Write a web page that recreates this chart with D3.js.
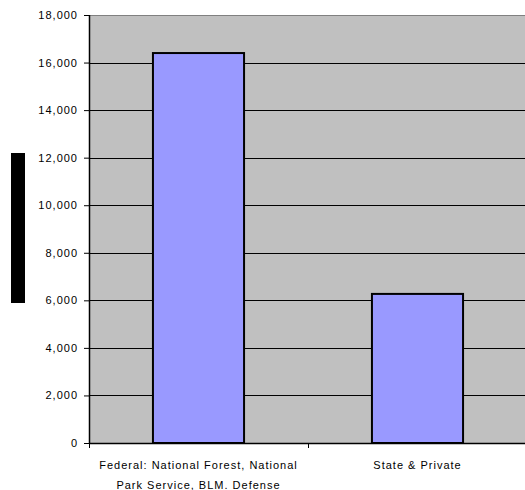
<!DOCTYPE html>
<html><head><meta charset="utf-8">
<script src="https://cdn.jsdelivr.net/npm/d3@7"></script>
<style>body{margin:0;background:#fff;}svg{display:block;font-family:"Liberation Sans",Arial,sans-serif;}</style>
</head><body>
<script>
const categories = [["Federal: National Forest, National", "Park Service, BLM. Defense"], ["State & Private"]];
const values = [16400, 6270];
const yTicks = [0, 2000, 4000, 6000, 8000, 10000, 12000, 14000, 16000, 18000];

(function () {
const W = 525, H = 490;
const svg = d3.select("body").append("svg").attr("width", W).attr("height", H);
const pL = 89, pR = 527, pT = 15, pB = 443;
const x = d3.scaleBand().domain(d3.range(categories.length)).range([pL, pR]).paddingInner(0.584).paddingOuter(0.292);
const y = d3.scaleLinear().domain([0, 18000]).range([pB, pT]);

svg.append("rect").attr("x", pL).attr("y", pT).attr("width", pR - pL).attr("height", pB - pT).attr("fill", "#C0C0C0");
svg.append("line").attr("x1", pL).attr("x2", pR).attr("y1", pT + 0.5).attr("y2", pT + 0.5).attr("stroke", "#808080");

// gridlines
svg.append("g").selectAll("line").data(yTicks.filter(d => d > 0 && d < 18000)).join("line")
  .attr("x1", pL).attr("x2", pR).attr("y1", d => Math.round(y(d)) + 0.5).attr("y2", d => Math.round(y(d)) + 0.5)
  .attr("stroke", "#000").attr("stroke-width", 1);

// bars
svg.append("g").selectAll("rect").data(values).join("rect")
  .attr("x", (d, i) => x(i)).attr("width", x.bandwidth())
  .attr("y", d => y(d)).attr("height", d => pB - y(d))
  .attr("fill", "#9999FF").attr("stroke", "#000").attr("stroke-width", 2);

// y axis
const yAxis = d3.axisLeft(y).tickValues(yTicks).tickSize(5).tickPadding(6).tickFormat(d3.format(","));
const gy = svg.append("g").attr("transform", `translate(${pL},0)`).call(yAxis);
gy.select(".domain").attr("stroke", "#000").attr("d", `M0.5,${pT}V${pB}`).attr("stroke-width", 1.5);
gy.selectAll(".tick line").attr("stroke", "#000");
gy.selectAll(".tick text").attr("font-size", 11).attr("letter-spacing", 1).attr("fill", "#000").attr("font-family", "Liberation Sans, Arial, sans-serif");

// x axis
svg.append("line").attr("x1", pL).attr("x2", pR).attr("y1", pB + 0.5).attr("y2", pB + 0.5).attr("stroke", "#000").attr("stroke-width", 1.5);
const boundaries = [pL, (x(0) + x.bandwidth() / 2 + x(1) + x.bandwidth() / 2) / 2];
svg.append("g").selectAll("line").data(boundaries).join("line")
  .attr("x1", d => Math.round(d) + 0.5).attr("x2", d => Math.round(d) + 0.5).attr("y1", pB).attr("y2", pB + 5)
  .attr("stroke", "#000");

const xl = svg.append("g").selectAll("text").data(categories).join("text")
  .attr("x", (d, i) => x(i) + x.bandwidth() / 2).attr("y", 469)
  .attr("text-anchor", "middle").attr("font-size", 11).attr("letter-spacing", 1).attr("fill", "#000");
xl.selectAll("tspan").data(d => d).join("tspan")
  .attr("x", function() { return d3.select(this.parentNode).attr("x"); })
  .attr("dy", (d, i) => i === 0 ? 0 : 20).text(d => d);

// obscured y-axis title block
svg.append("rect").attr("x", 11).attr("y", 153).attr("width", 14).attr("height", 150).attr("fill", "#000");
})();
</script>
</body></html>
